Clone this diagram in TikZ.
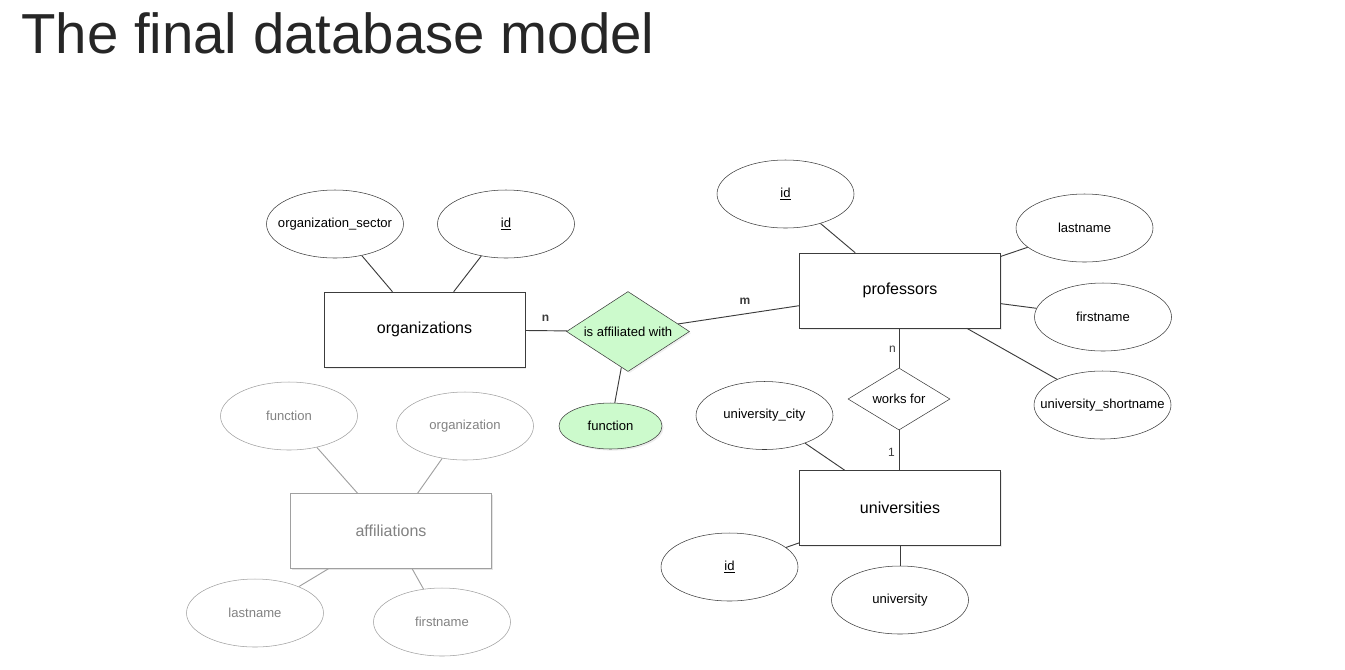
\documentclass[tikz,border=0pt]{standalone}
\usepackage{fontspec}
\setmainfont{Liberation Sans}
\usetikzlibrary{shapes.geometric,shadows}
\definecolor{lineC}{RGB}{60,60,60}
\definecolor{greenC}{RGB}{204,250,204}
\definecolor{grayL}{RGB}{160,160,160}
\definecolor{grayT}{RGB}{130,130,130}
\newcommand{\fitbox}[1]{\makebox[0pt][c]{#1}}
\tikzset{
  entity/.style={draw=lineC, fill=white, rectangle, minimum width=150.5pt, minimum height=56.25pt, inner sep=0pt, font=\fontsize{12}{14}\selectfont, drop shadow={shadow xshift=1.2pt, shadow yshift=-1.2pt, opacity=0.15}},
  attr/.style={draw=lineC, fill=white, ellipse, minimum width=102.75pt, minimum height=51pt, inner sep=0pt, font=\fontsize{9.8}{12}\selectfont},
  relship/.style={draw=lineC, diamond, aspect=1.5, inner sep=0pt, font=\fontsize{9.8}{12}\selectfont},
  conn/.style={draw=lineC, line width=0.7pt},
  grayent/.style={entity, draw=grayL, text=grayT, drop shadow={shadow xshift=1.2pt, shadow yshift=-1.2pt, opacity=0.08}},
  grayattr/.style={attr, draw=grayL, text=grayT},
  grayconn/.style={draw=grayL, line width=0.7pt},
  card/.style={font=\fontsize{9}{11}\selectfont, text=lineC, inner sep=0pt},
  cardb/.style={card, font=\fontsize{9}{11}\selectfont\bfseries}
}
\begin{document}
\begin{tikzpicture}[x=0.75pt, y=-0.75pt]
\useasboundingbox (0,0) rectangle (1345,669);
% title
\node[anchor=base west, inner sep=0pt, text=black!85, font=\fontsize{42.3}{50}\selectfont] (title) at (21,53) {The final database model};

% organizations
\node[entity] (org) at (424.5,329.5) {organizations};
\node[attr] (orgsec) at (335,224) {\fitbox{organization\_sector}};
\node[attr] (orgid) at (506,224) {\underline{id}};

% relationship
\node[relship, fill=greenC, minimum width=92.25pt, minimum height=60pt, drop shadow={shadow xshift=1.2pt, shadow yshift=-1.2pt, opacity=0.12}] (aff) at (628,331.5) {is affiliated with};
\node[attr, fill=greenC, minimum width=77.25pt, minimum height=34.5pt, drop shadow={shadow xshift=1.2pt, shadow yshift=-1.2pt, opacity=0.15}] (func) at (610.5,426) {function};

% professors
\node[entity] (prof) at (900,290.5) {professors};
\node[attr] (profid) at (785.5,194) {\underline{id}};
\node[attr] (plast) at (1084.5,228) {lastname};
\node[attr] (pfirst) at (1103,317) {firstname};
\node[attr] (pshort) at (1102.5,405) {\fitbox{university\_shortname}};

% works for
\node[relship, fill=white, minimum width=76.5pt, minimum height=46.5pt] (works) at (899,399) {works for};

% universities
\node[entity] (uni) at (900,508) {universities};
\node[attr] (ucity) at (764.5,415.5) {\fitbox{university\_city}};
\node[attr] (uid) at (729.5,567) {\underline{id}};
\node[attr] (uname) at (900,600) {university};

% affiliations (gray)
\node[grayent] (affl) at (391,531) {affiliations};
\node[grayattr] (gfunc) at (289,416) {function};
\node[grayattr] (gorg) at (465,426) {organization};
\node[grayattr] (glast) at (255,613) {lastname};
\node[grayattr] (gfirst) at (442,622) {firstname};

% connectors
\draw[conn] (orgsec) -- (org);
\draw[conn] (orgid) -- (org);
\draw[conn] (org) -- (aff);
\draw[conn] (aff) -- (prof);
\draw[conn] (aff) -- (func);
\draw[conn] (profid) -- (prof);
\draw[conn] (plast) -- (prof);
\draw[conn] (pfirst) -- (prof);
\draw[conn] (pshort) -- (prof);
\draw[conn] (prof.south -| works.north) -- (works.north);
\draw[conn] (works.south) -- (works.south |- uni.north);
\draw[conn] (ucity) -- (uni);
\draw[conn] (uid) -- (uni);
\draw[conn] (uni.south -| uname.north) -- (uname.north);
\draw[grayconn] (gfunc) -- (affl);
\draw[grayconn] (gorg) -- (affl);
\draw[grayconn] (glast) -- (affl);
\draw[grayconn] (gfirst) -- (affl);

% cardinalities
\node[cardb] (cn1) at (545.5,318) {n};
\node[cardb] (cm1) at (745,301) {m};
\node[card] (cn2) at (892.5,349.5) {n};
\node[card] (c12) at (891.5,452.5) {1};
\end{tikzpicture}
\end{document}
